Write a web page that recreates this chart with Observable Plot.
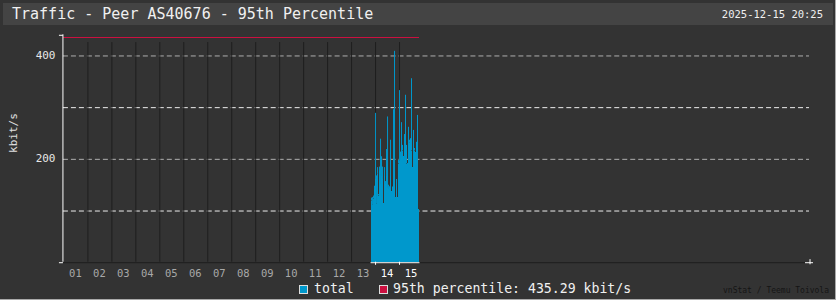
<!DOCTYPE html>
<html>
<head>
<meta charset="utf-8">
<script src="https://cdn.jsdelivr.net/npm/d3@7"></script>
<script src="https://cdn.jsdelivr.net/npm/@observablehq/plot@0.6"></script>
<style>
  html, body { margin: 0; padding: 0; background: #333; }
  #wrap { position: relative; width: 836px; height: 300px; background: #333; box-sizing: border-box;
          border-right: 1px solid #aaa; border-bottom: 1px solid #aaa; overflow: hidden;
          font-family: "DejaVu Sans Mono", monospace; }
  #band { position: absolute; left: 3px; top: 3px; width: 830px; height: 22px; background: #444; }
  #title { position: absolute; left: 12px; top: 3px; line-height: 22px; font-size: 15px; color: #f0f0f0; white-space: pre; }
  #stamp { position: absolute; right: 12px; top: 3px; line-height: 22px; font-size: 10.5px; color: #f0f0f0; }
  #chart { position: absolute; left: 0; top: 27px; }
  #ylab { position: absolute; left: 13px; top: 133px; transform: translate(-50%, -50%) rotate(-90deg);
          font-size: 11px; color: #e0e0e0; white-space: pre; }
  .leg { position: absolute; top: 280px; line-height: 18px; font-size: 13.2px; color: #f0f0f0; white-space: pre; }
  .sw { position: absolute; top: 285px; width: 7px; height: 7px; border: 1px solid #ddd; }
  #credit { position: absolute; right: 6px; top: 286px; font-size: 8px; color: #151515; white-space: pre; }
</style>
</head>
<body>
<div id="wrap">
  <div id="band"></div>
  <div id="title"></div>
  <div id="stamp"></div>
  <div id="chart"></div>
  <div id="ylab"></div>
  <div class="sw" id="sw1" style="left:299px;"></div>
  <div class="leg" id="leg1" style="left:314px;"></div>
  <div class="sw" id="sw2" style="left:379px;"></div>
  <div class="leg" id="leg2" style="left:393px;"></div>
  <div id="credit"></div>
</div>
<script>
// ---- text ----
const titleText = "Traffic - Peer AS40676 - 95th Percentile";
const stampText = "2025-12-15 20:25";
const yLabel = "kbit/s";
const legendTotal = "total";
const legendPct = "95th percentile: 435.29 kbit/s";
const creditText = "vnStat / Teemu Toivola";

// ---- data ----
const monthStart = "2025-12-01T00:00:00Z";
const monthEnd = "2026-01-01T03:00:00Z";
const seriesStart = "2025-12-13T20:00:00Z";   // first hourly bar
const avgKbit = [118,110,122,140,160,112,170,128,175,150,165,160,113,165,150,165,142,140,142,165,136,145,150,175,126,150,126,190,195,200,210,215,204,200,220,190,191,220,230,200,215,184,220,215,213,225,225,236,102];
const peakKbit = [124,125,128,147,288,167,183,131,184,238,204,184,113,183,156,218,281,149,146,236,136,146,295,408,126,160,126,197,332,213,270,226,204,247,323,226,191,261,236,239,355,184,255,220,213,232,284,236,102];
const percentile95 = 435.29;
const dayLabels = ["01","02","03","04","05","06","07","08","09","10","11","12","13","14","15"];
const activeDays = ["14","15"];
const gridValues = [100, 200, 300, 400];
const yTickValues = [200, 400];

// ---- colours ----
const totalColor = "#0098cc";
const pctColor = "#cc1040";

document.getElementById("title").textContent = titleText;
document.getElementById("stamp").textContent = stampText;
document.getElementById("ylab").textContent = yLabel;
document.getElementById("leg1").textContent = legendTotal;
document.getElementById("leg2").textContent = legendPct;
document.getElementById("credit").textContent = creditText;
document.getElementById("sw1").style.background = totalColor;
document.getElementById("sw2").style.background = pctColor;

const H = 3600e3;
const t0 = new Date(monthStart), tEnd = new Date(monthEnd), s0 = new Date(seriesStart);
const rows = avgKbit.map((v, i) => ({
  t1: new Date(+s0 + i * H), t2: new Date(+s0 + (i + 1) * H), mid: new Date(+s0 + (i + 0.5) * H),
  avg: v, peak: peakKbit[i]
}));
const dataEnd = rows[rows.length - 1].t2;
const days = dayLabels.map((lab, i) => ({
  lab, start: new Date(+t0 + i * 24 * H), noon: new Date(+t0 + (i + 0.5) * 24 * H),
  active: activeDays.includes(lab)
}));

const plot = Plot.plot({
  width: 836, height: 255,
  marginLeft: 63, marginRight: 26, marginTop: 28, marginBottom: 20,
  x: { type: "utc", domain: [t0, tEnd], axis: null },
  y: { domain: [0, 400], axis: null },
  color: { type: "identity" },
  style: { background: "transparent", fontFamily: "DejaVu Sans Mono, monospace", overflow: "visible" },
  marks: [
    // dashed horizontal grid
    Plot.ruleY(gridValues, { y: d => d, x1: t0, x2: tEnd, dy: 0.5,
      stroke: d => d % 200 === 0 ? "#b0b0b0" : "#eeeeee", strokeDasharray: "5,3" }),
    // day separators
    Plot.ruleX(days.slice(1), { x: "start", y1: 0, y2: 425, dx: 0.5, stroke: "#1e1e1e" }),
    // hourly average fill
    Plot.rectY(rows, { x1: "t1", x2: "t2", y: "avg", fill: totalColor, inset: 0, shapeRendering: "crispEdges" }),
    // hourly peaks
    Plot.ruleX(rows, { x: "mid", y1: "avg", y2: "peak", stroke: totalColor, strokeWidth: 1 }),
    // 95th percentile
    Plot.ruleY([percentile95], { y: d => d, x1: t0, x2: dataEnd, stroke: pctColor, shapeRendering: "crispEdges" }),
    // x baseline
    Plot.ruleY([0], { x1: t0, x2: tEnd, dy: 0.5, stroke: "#1e1e1e" }),
    Plot.ruleY([0], { x1: rows[0].t1, x2: dataEnd, dy: 0.5, stroke: "#ffffff" }),
    Plot.ruleX(days.filter(d => d.active), { x: "start", y1: 0, y2: -6, dx: 0.5, stroke: "#ffffff" }),
    // right arrow on x axis
    Plot.ruleY([0], { x1: new Date(+tEnd - 4 * H), x2: new Date(+tEnd + 4 * H), dy: 0.5, stroke: "#ffffff" }),
    Plot.ruleX([tEnd], { y1: -5, y2: 5, dx: 0.5, stroke: "#ffffff" }),
    // y axis
    Plot.ruleX([t0], { y1: 0, y2: 440, dx: -0.5, stroke: "#ffffff" }),
    Plot.ruleY([0, 440], { x1: new Date(+t0 - 4 * H), x2: t0, dy: 0.5, stroke: "#ffffff" }),
    // y tick labels
    Plot.text(yTickValues, { x: t0, y: d => d, text: d => String(d), dx: -8, textAnchor: "end",
      fill: "#e8e8e8", fontSize: 11 }),
    // day labels
    Plot.text(days, { x: "noon", y: 0, dy: 11, text: "lab", fontSize: 10.5,
      fill: d => d.active ? "#ffffff" : "#a8a8a8" })
  ]
});
document.getElementById("chart").appendChild(plot);
</script>
</body>
</html>
